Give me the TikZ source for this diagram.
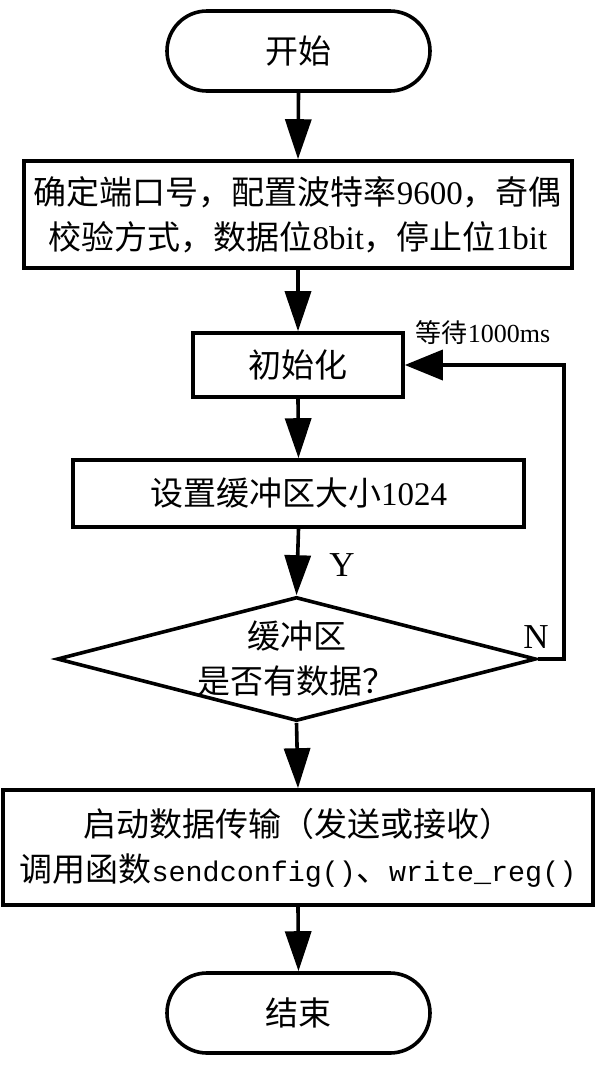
\documentclass[tikz,border=0pt]{standalone}
\usepackage{fontspec}
\setmainfont{Noto Sans CJK SC}
\newfontfamily\tm{Liberation Serif}
\newfontfamily\mono[Scale=0.86]{Liberation Mono}
\usetikzlibrary{arrows.meta,shapes.geometric}
\begin{document}
\begin{tikzpicture}[x=1pt,y=-1pt,
  every node/.style={font=\fontsize{33}{45}\selectfont, text=black},
  ln/.style={line width=3.6pt},
  term/.style={draw, ln, rounded corners=40pt, minimum width=263pt, minimum height=80pt, inner sep=0pt},
  proc/.style={draw, ln, inner sep=0pt, align=center},
  arr/.style={ln, -{Triangle[length=40pt,width=26pt]}},
  loop/.style={ln, -{Triangle[length=38pt,width=30pt]}},
  lbl/.style={font=\fontsize{35}{40}\selectfont\tm, inner sep=0pt},
]
\useasboundingbox (0,0) rectangle (596,1066);
\node[term] (start) at (298.5,51) {开始};
\node[proc, minimum width=548pt, minimum height=107pt] (cfg) at (298,214.5)
  {确定端口号，配置波特率{\tm 9600}，奇偶\\校验方式，数据位{\tm 8bit}，停止位{\tm 1bit}};
\node[proc, minimum width=210pt, minimum height=64pt] (init) at (298,365) {初始化};
\node[proc, minimum width=451pt, minimum height=67pt] (buf) at (298.5,493.5) {设置缓冲区大小{\tm 1024}};
\node[diamond, draw, ln, inner sep=0pt, minimum width=479pt, minimum height=124pt] (dec) at (296.5,659) {};
\node[align=center, inner sep=0pt] (dect) at (dec.center) {缓冲区\\是否有数据？};
\node[proc, minimum width=590pt, minimum height=115pt] (tx) at (298,847.5)
  {启动数据传输（发送或接收）\\调用函数{\mono sendconfig()}、{\mono write\_reg()}};
\node[term] (end) at (298.5,1013) {结束};
\node[inner sep=0pt, font=\fontsize{26}{30}\selectfont] (wait) at (483,333) {等待{\tm 1000ms}};
\node[lbl] (y) at (342,565) {Y};
\node[lbl] (n) at (536,637) {N};
\draw[arr] (start.south) -- (cfg.north);
\draw[arr] (cfg.south) -- (init.north);
\draw[arr] (init.south) -- (buf.north);
\draw[arr] (buf.south) -- (dec.north);
\draw[arr] (dec.south) -- (tx.north);
\draw[arr] (tx.south) -- (end.north);
\draw[loop] (dec.east) -- ++(26,0) |- (init.east);
\end{tikzpicture}
\end{document}
